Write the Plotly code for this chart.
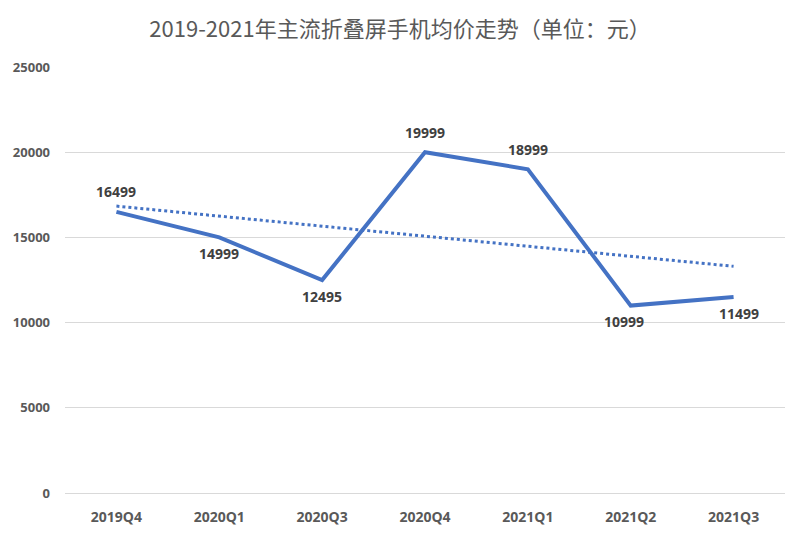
import plotly.graph_objects as go

categories = ["2019Q4", "2020Q1", "2020Q3", "2020Q4", "2021Q1", "2021Q2", "2021Q3"]
prices = [16499, 14999, 12495, 19999, 18999, 10999, 11499]
label_above = [True, False, False, True, True, False, False]
trend_x = ["2019Q4", "2021Q3"]
trend_y = [16837, 13302]
y_ticks = [0, 5000, 10000, 15000, 20000, 25000]

blue = "#4472C4"

fig = go.Figure()
fig.add_trace(go.Scatter(
    x=trend_x, y=trend_y, mode="lines",
    line=dict(color=blue, width=3, dash="dot"),
    hoverinfo="skip", showlegend=False,
))
fig.add_trace(go.Scatter(
    x=categories, y=prices, mode="lines",
    line=dict(color=blue, width=4),
    showlegend=False,
))

for i, (c, v, up) in enumerate(zip(categories, prices, label_above)):
    xs = 0
    if c == "2021Q2":
        xs = -7
    elif c == "2021Q3":
        xs = 5
    fig.add_annotation(
        x=c, y=v, text=str(v), showarrow=False,
        xanchor="center", yanchor="middle",
        yshift=20 if up else -16, xshift=xs,
        font=dict(family="Open Sans", size=14, color="#404040", weight="bold"),
    )

fig.update_layout(
    width=800, height=535,
    margin=dict(l=65, r=15, t=67, b=42, autoexpand=False),
    paper_bgcolor="white", plot_bgcolor="white",
    title=dict(text="2019-2021年主流折叠屏手机均价走势（单位：元）",
               x=0.5, xanchor="center", y=0.945, yanchor="middle",
               font=dict(family="Noto Sans CJK SC", size=22, color="#595959")),
    xaxis=dict(type="category", categoryorder="array", categoryarray=categories,
               range=[-0.5, 6.5], showgrid=False, showline=False, zeroline=False,
               ticks="", ticklabelstandoff=14, automargin=False,
               tickfont=dict(family="Open Sans", size=14, color="#595959", weight="bold")),
    yaxis=dict(range=[0, 25000], tickvals=y_ticks, ticktext=[str(t) for t in y_ticks],
               showgrid=True, gridcolor="#d9d9d9", gridwidth=1,
               zeroline=True, zerolinecolor="#d9d9d9", zerolinewidth=1,
               showline=False, ticks="", ticklabelstandoff=14, automargin=False,
               tickfont=dict(family="Open Sans", size=13, color="#595959", weight="bold")),
)

fig.write_html("out.html")
